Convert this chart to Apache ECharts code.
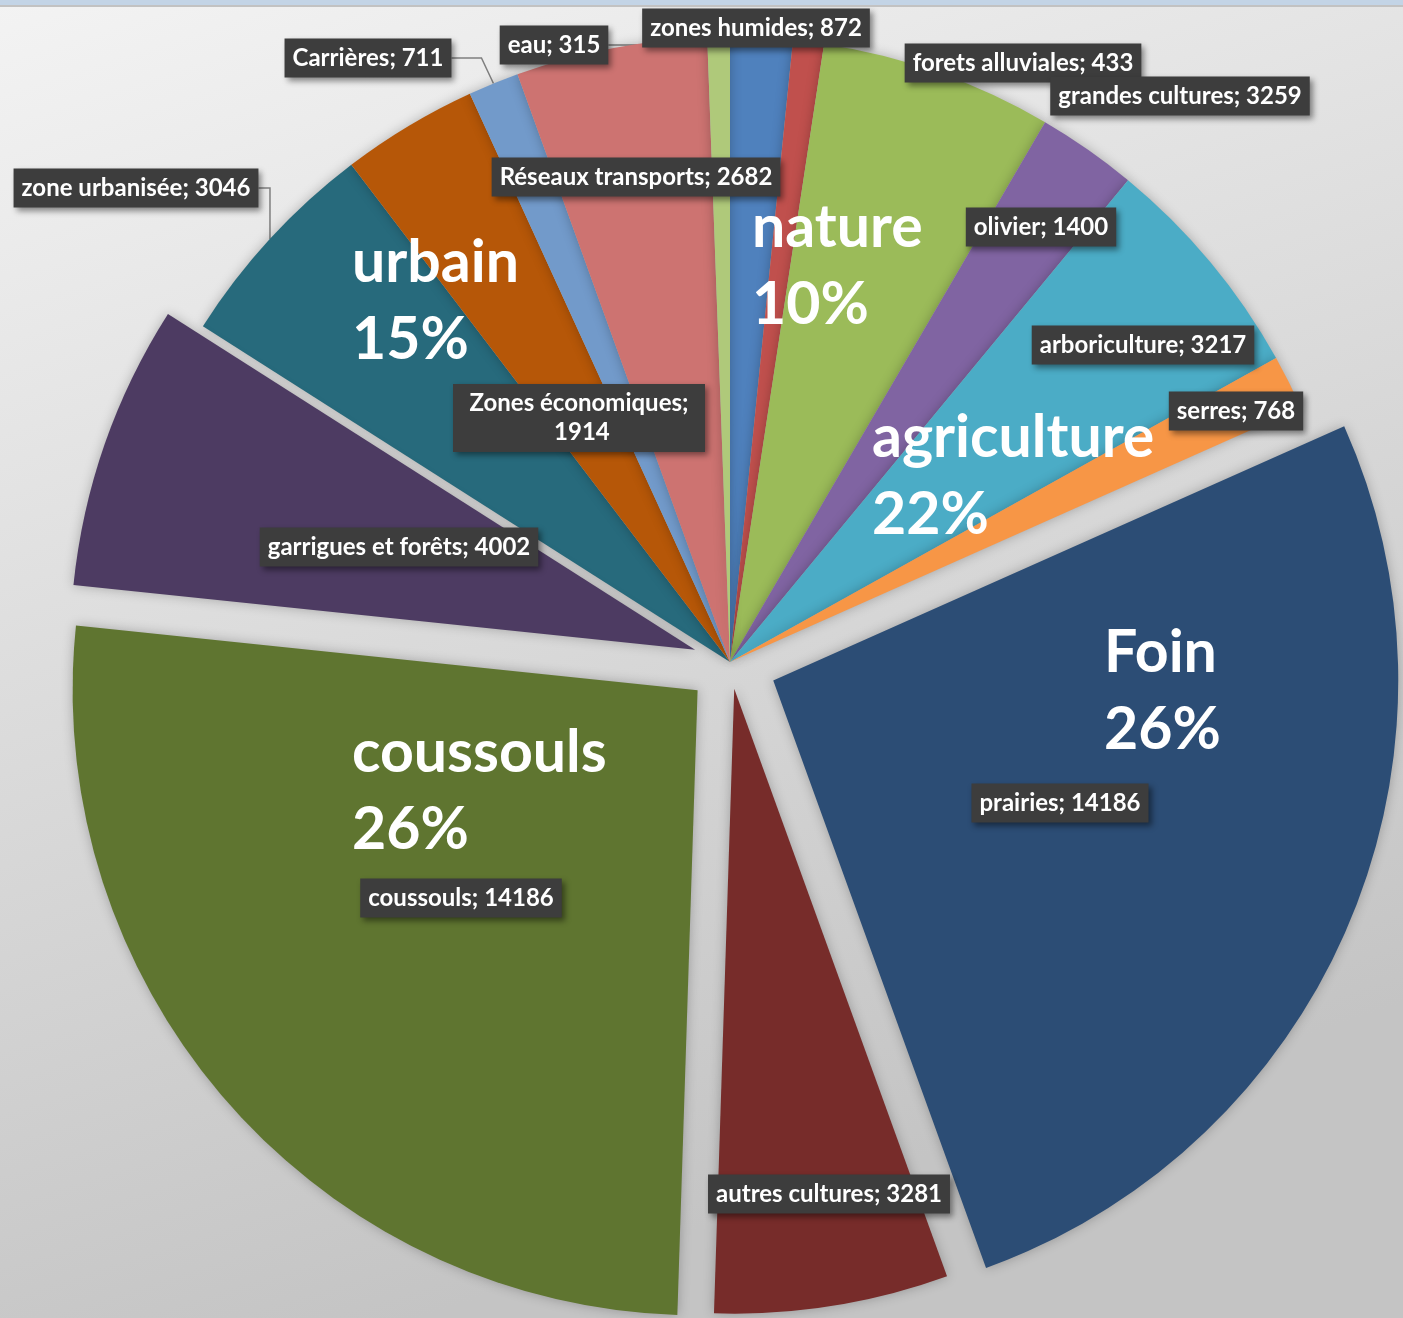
<!DOCTYPE html>
<html>
<head>
<meta charset="utf-8">
<script src="https://cdn.jsdelivr.net/npm/echarts@6/dist/echarts.min.js"></script>
<style>
  html, body { margin: 0; padding: 0; }
  #chart { width: 1403px; height: 1318px; }
</style>
</head>
<body>
<div id="chart"></div>
<script>
// categories, clockwise from 12 o'clock
const categories = [
  'zones humides', 'forets alluviales', 'grandes cultures', 'olivier',
  'arboriculture', 'serres', 'prairies', 'autres cultures', 'coussouls',
  'garrigues et forêts', 'zone urbanisée', 'Zones économiques',
  'Carrières', 'Réseaux transports', 'eau'
];
const values = [872, 433, 3259, 1400, 3217, 768, 14186, 3281, 14186, 4002, 3046, 1914, 711, 2682, 315];

// slices pulled out of the pie, and how far (px)
const exploded = ['prairies', 'autres cultures', 'coussouls', 'garrigues et forêts'];
const explodeDist = [47, 27, 43, 37];

// group captions
const groupTexts = ['nature\n10%', 'urbain\n15%', 'agriculture\n22%', 'Foin\n26%', 'coussouls\n26%'];

// palette (office theme)
const colors = [
  '#4F81BD', '#C0504D', '#9BBB59', '#8064A2', '#4BACC6', '#F79646',
  '#2C4D75', '#772C2A', '#5F7530', '#4D3B62', '#276A7C', '#B65708',
  '#729ACA', '#CD7371', '#AFC97A'
];

// label box centres (layout only)
const labelPos = [
  [756, 28], [1023, 63], [1180, 96], [1041, 227], [1143, 345], [1236, 411],
  [1060, 803], [829, 1194], [461, 898], [399, 547], [136, 188], [579, 418],
  [368, 58], [636, 177], [554, 45]
];
const leaderIdx = [1, 10, 12, 14];

// group caption anchors (top-left)
const groupPos = [[752, 189], [352, 224], [872, 399], [1104, 614], [352, 714]];

const CENTER = [730, 662];
const RADIUS = 625;
const NONE = 'rgba(0,0,0,0)';

const chart = echarts.init(document.getElementById('chart'), null, { renderer: 'canvas' });

// a pie layer; only the names in "visible" get their colour
function sliceSeries(visible, offset) {
  return {
    type: 'pie',
    center: CENTER,
    radius: [0, RADIUS],
    startAngle: 90,
    clockwise: true,
    silent: true,
    selectedMode: offset ? 'multiple' : false,
    selectedOffset: offset || 0,
    emphasis: { disabled: true },
    label: { show: false },
    labelLine: { show: false },
    data: categories.map((name, i) => {
      const on = visible.indexOf(name) >= 0;
      return {
        name: name,
        value: values[i],
        selected: !!offset && on,
        itemStyle: on
          ? { color: colors[i], shadowBlur: 12, shadowColor: 'rgba(0,0,0,0.25)' }
          : { color: NONE }
      };
    })
  };
}

const series = [];
// the slices that stay in place
series.push(sliceSeries(categories.filter(n => exploded.indexOf(n) < 0), 0));
// one layer per pulled-out slice
exploded.forEach((n, k) => series.push(sliceSeries([n], explodeDist[k])));

// same values again, invisible, only carrying the labels
const labelData = categories.map((name, i) => {
  const hasLeader = leaderIdx.indexOf(i) >= 0;
  const item = {
    name: name,
    value: values[i],
    label: { position: hasLeader ? 'outside' : 'inside' },
    labelLine: { show: hasLeader }
  };
  if (name === 'Zones économiques') {
    item.label.width = 236;
    item.label.overflow = 'break';
    item.label.align = 'center';
  }
  return item;
});

series.push({
  type: 'pie',
  center: CENTER,
  radius: [0, RADIUS],
  startAngle: 90,
  clockwise: true,
  silent: true,
  selectedMode: false,
  avoidLabelOverlap: false,
  emphasis: { disabled: true },
  itemStyle: { color: NONE },
  label: {
    show: true,
    formatter: p => p.name + '; ' + p.value,
    color: '#ffffff',
    fontFamily: 'Lato',
    fontWeight: 'bold',
    fontSize: 24,
    lineHeight: 29,
    overflow: 'none',
    backgroundColor: '#3d3d3d',
    padding: [5, 8],
    shadowColor: 'rgba(0,0,0,0.45)',
    shadowBlur: 6,
    shadowOffsetX: 3,
    shadowOffsetY: 3
  },
  labelLine: {
    lineStyle: { color: '#7f7f7f', width: 1.5 }
  },
  labelLayout: function (params) {
    const pos = labelPos[params.dataIndex];
    return {
      x: pos[0],
      y: pos[1],
      align: 'center',
      verticalAlign: 'middle'
    };
  },
  data: labelData
});

const option = {
  animation: false,
  backgroundColor: {
    type: 'linear', x: 0, y: 0, x2: 0.3, y2: 1,
    colorStops: [
      { offset: 0, color: '#f3f3f3' },
      { offset: 1, color: '#c4c4c4' }
    ]
  },
  graphic: [
    { type: 'rect', left: 0, top: 0, shape: { width: 1403, height: 5 }, style: { fill: '#c3d4e6' }, z: 100 },
    { type: 'rect', left: 0, top: 5, shape: { width: 1403, height: 2 }, style: { fill: '#c2c2c2' }, z: 100 }
  ].concat(groupTexts.map((t, i) => ({
    type: 'text',
    left: groupPos[i][0],
    top: groupPos[i][1],
    z: 50,
    style: {
      text: t,
      font: 'bold 59px Lato',
      fill: '#ffffff',
      lineHeight: 77
    }
  }))),
  series: series
};

chart.setOption(option);
</script>
</body>
</html>
